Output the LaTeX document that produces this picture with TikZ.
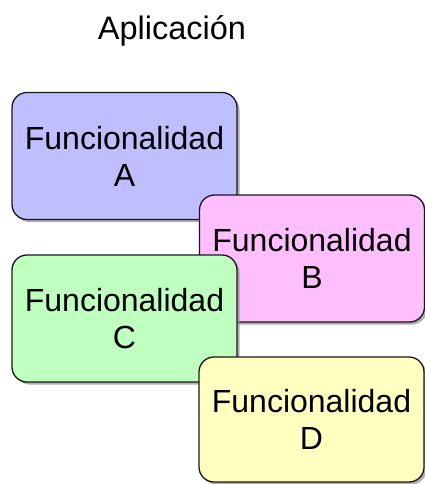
\documentclass[tikz,border=0pt]{standalone}
\usepackage{fontspec}
\setmainfont{Liberation Sans}
\usetikzlibrary{shadows}
\begin{document}
\begin{tikzpicture}[x=1pt,y=-1pt,
  feat/.style={draw=black!90, line width=1.3pt, rounded corners=15pt,
    minimum width=225pt, minimum height=127pt, align=center,
    font=\fontsize{32}{37}\selectfont,
    drop shadow={shadow xshift=2.5pt, shadow yshift=-2.5pt, fill=black!45, opacity=0.7}},
  title/.style={font=\fontsize{32.5}{38}\selectfont, anchor=base}]
\useasboundingbox (0,0) rectangle (425,484);
\node[title] (t) at (172,40) {Aplicación};
\node[feat, fill={rgb,255:red,191;green,191;blue,255}] (a) at (124.5,156) {Funcionalidad\\A};
\node[feat, fill={rgb,255:red,255;green,191;blue,255}] (b) at (312,258.5) {Funcionalidad\\B};
\node[feat, fill={rgb,255:red,191;green,255;blue,191}] (c) at (124.5,318.5) {Funcionalidad\\C};
\node[feat, fill={rgb,255:red,255;green,255;blue,191}, minimum height=125pt] (d) at (311.5,419.5) {Funcionalidad\\D};
\end{tikzpicture}
\end{document}
